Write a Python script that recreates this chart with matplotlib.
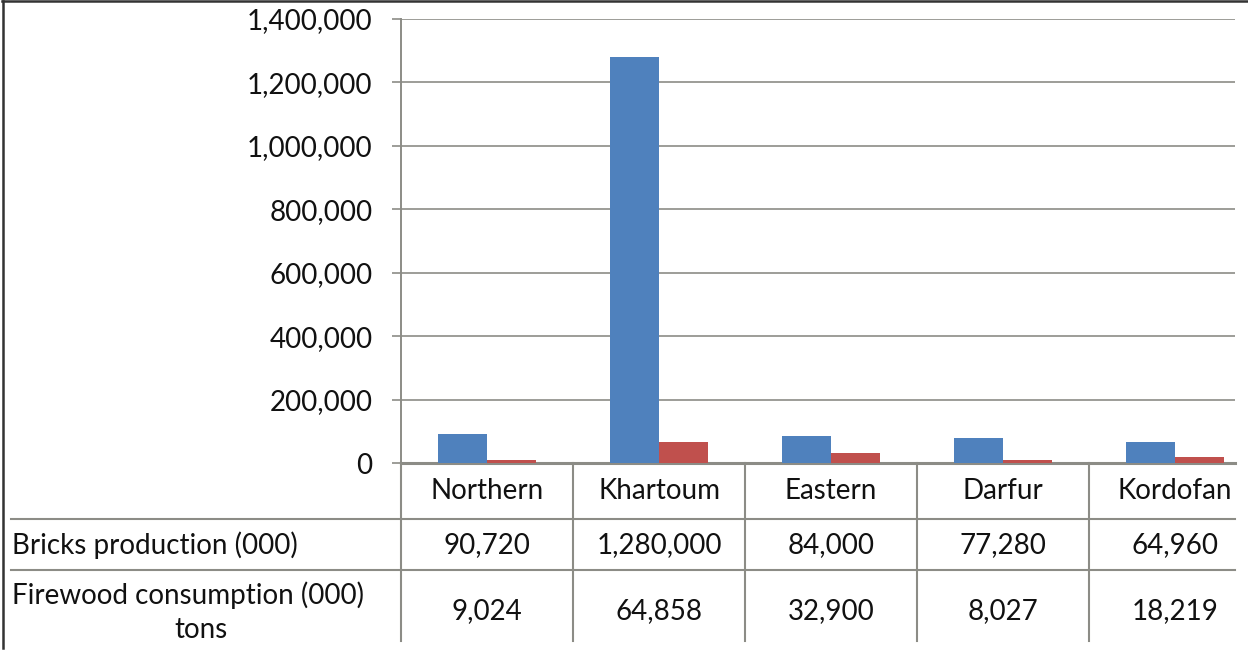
import matplotlib
matplotlib.use("Agg")
import matplotlib.pyplot as plt
from matplotlib.lines import Line2D
from matplotlib.ticker import FuncFormatter
import matplotlib.transforms as mtransforms
import numpy as np

# data
regions = ["Northern", "Khartoum", "Eastern", "Darfur", "Kordofan"]
bricks = [90720, 1280000, 84000, 77280, 64960]
firewood = [9024, 64858, 32900, 8027, 18219]
row_labels = ["Bricks production (000)", "Firewood consumption (000)", "tons"]
yticks = [0, 200000, 400000, 600000, 800000, 1000000, 1200000, 1400000]

W, H = 1248, 651
blue = "#4F81BD"
red = "#C0504D"
grid_c = "#8C8C86"
font = "Lato"
fs = 20

plt.rcParams['font.family'] = [font, 'DejaVu Sans']

fig = plt.figure(figsize=(W / 100, H / 100), dpi=100)

def fx(px):
    return px / W

def fy(py):
    return 1 - py / H

# plot area: y axis at x=401, right end at 1235, top y=19, baseline y=463
col_w = 172.0
x0, x1, ytop, ybase = 401, 1235, 19, 463
ax = fig.add_axes([fx(x0), fy(ybase), fx(x1 - x0), (ybase - ytop) / H])

n = len(regions)
centers = np.arange(n) + 0.5
bw = 1 / 3.5
ax.bar(centers - bw / 2, bricks, width=bw, color=blue, zorder=3)
ax.bar(centers + bw / 2, firewood, width=bw, color=red, zorder=3)

ax.set_xlim(0, (x1 - x0) / col_w)
ax.set_ylim(0, 1400000)
ax.set_yticks(yticks)
ax.yaxis.set_major_formatter(FuncFormatter(lambda v, p: "{:,.0f}".format(v)))
ax.set_xticks([])
ax.tick_params(axis="y", length=6.5, width=1.2, color=grid_c, pad=14,
               labelsize=fs, labelcolor="#111111")
ax.grid(axis="y", color=grid_c, lw=1.2, zorder=0)
for s in ["top", "right"]:
    ax.spines[s].set_visible(False)
ax.spines["left"].set_color(grid_c)
ax.spines["left"].set_linewidth(1.4)
ax.spines["bottom"].set_color(grid_c)
ax.spines["bottom"].set_linewidth(2.2)

# data table under the plot
row_y = [519, 570]
bottom_y = 641
tab_kw = dict(color=grid_c, lw=1.5, transform=fig.transFigure)
for ry in row_y:
    fig.add_artist(Line2D([fx(11), fx(x1)], [fy(ry), fy(ry)], **tab_kw))
# vertical dividers at the column edges
for i in range(n):
    xp = x0 + i * col_w
    fig.add_artist(Line2D([fx(xp), fx(xp)], [fy(ybase), fy(bottom_y)], **tab_kw))

blend = mtransforms.blended_transform_factory(ax.transData, fig.transFigure)
for i, r in enumerate(regions):
    ax.text(centers[i], fy(491), r, transform=blend, ha="center", va="center",
            fontsize=fs, color="#111111", clip_on=False)
    ax.text(centers[i], fy(545), "{:,}".format(bricks[i]), transform=blend,
            ha="center", va="center", fontsize=fs, color="#111111", clip_on=False)
    ax.text(centers[i], fy(611), "{:,}".format(firewood[i]), transform=blend,
            ha="center", va="center", fontsize=fs, color="#111111", clip_on=False)

fig.text(fx(12), fy(545), row_labels[0], ha="left", va="center",
         fontsize=fs, color="#111111")
fig.text(fx(12), fy(595), row_labels[1], ha="left", va="center",
         fontsize=fs, color="#111111")
fig.text(fx(201), fy(630), row_labels[2], ha="center", va="center",
         fontsize=fs, color="#111111")

# chart area border (top and left visible)
fig.add_artist(Line2D([fx(2), 1], [fy(1), fy(1)], color="#333333", lw=1.8,
                      transform=fig.transFigure))
fig.add_artist(Line2D([fx(2.5), fx(2.5)], [fy(1), fy(648)], color="#333333", lw=1.8,
                      transform=fig.transFigure))

fig.savefig("out.png", dpi=100)
